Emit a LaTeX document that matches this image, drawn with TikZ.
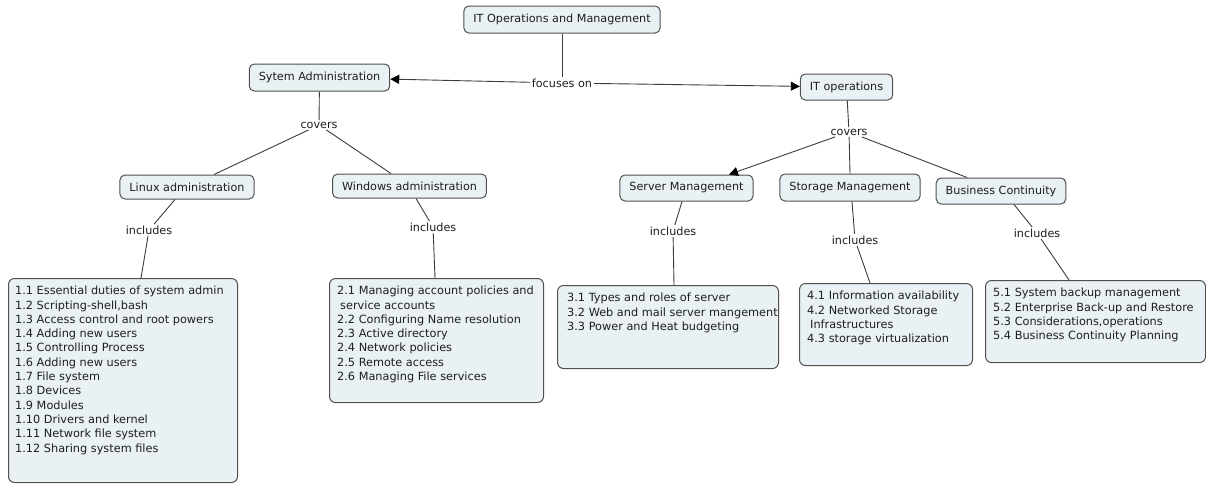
\documentclass[tikz,border=0pt]{standalone}
\usepackage{fontspec}
\usepackage{tikz}
\usetikzlibrary{arrows.meta}
\newfontfamily\mapfont{DejaVu Sans}
\definecolor{boxfill}{RGB}{233,241,244}
\definecolor{boxline}{RGB}{80,80,80}
\definecolor{inkgray}{RGB}{30,30,30}
\definecolor{linkgray}{RGB}{60,60,60}
\begin{document}
\begin{tikzpicture}[x=1pt,y=-1pt]
\tikzstyle{concept}=[draw=boxline,fill=boxfill,rounded corners=5pt,line width=1pt,minimum height=26pt,inner xsep=9.5pt,text=inkgray,font=\mapfont\fontsize{11.2}{13}\selectfont];
\tikzstyle{listbox}=[draw=boxline,fill=boxfill,rounded corners=6pt,line width=1pt,anchor=north west,inner sep=0pt];
\tikzstyle{listtext}=[anchor=north west,inner sep=0pt,align=left,text=inkgray,font=\mapfont\fontsize{11.3}{14.3}\selectfont];
\tikzstyle{linkword}=[inner sep=1.5pt,text=inkgray,font=\mapfont\fontsize{11.2}{13}\selectfont];
\tikzstyle{link}=[draw=linkgray,line width=0.9pt];
\tikzstyle{linkarrow}=[link,-{Triangle[length=9pt,width=9pt,fill=black,color=black]}];
\path[use as bounding box,fill=white] (0,0) rectangle (1206,483);

\node[concept,minimum height=27pt] (itom) at (562,19.5) {IT Operations and Management};
\node[concept,minimum height=27pt] (sysadm) at (319.5,77.5) {Sytem Administration};
\node[concept] (itops) at (846.5,87) {IT operations};
\node[concept,minimum height=24pt] (linux) at (187,187) {Linux administration};
\node[concept,minimum height=24pt] (windows) at (409.5,186) {Windows administration};
\node[concept] (server) at (686.5,188) {Server Management};
\node[concept,minimum height=27pt] (storage) at (850,187.5) {Storage Management};
\node[concept] (business) at (1001,191) {Business Continuity};

\node[linkword] (focus) at (562,83) {focuses on};
\node[linkword] (cover1) at (319,125) {covers};
\node[linkword] (cover2) at (849,132) {covers};
\node[linkword] (incl1) at (149,230) {includes};
\node[linkword] (incl2) at (433,227) {includes};
\node[linkword] (incl3) at (673,231) {includes};
\node[linkword] (incl4) at (855,240) {includes};
\node[linkword] (incl5) at (1037,233) {includes};

\node[listbox,minimum width=229pt,minimum height=204pt] (linuxlist) at (8,278) {};
\node[listtext] (linuxtxt) at ([xshift=7pt,yshift=-8pt]linuxlist.north west) {1.1 Essential duties of system admin\\1.2 Scripting-shell,bash\\1.3 Access control and root powers\\1.4 Adding new users\\1.5 Controlling Process\\1.6 Adding new users\\1.7 File system\\1.8 Devices\\1.9 Modules\\1.10 Drivers and kernel\\1.11 Network file system\\1.12 Sharing system files};
\node[listbox,minimum width=214pt,minimum height=124pt] (winlist) at (329,278) {};
\node[listtext] (wintxt) at ([xshift=8pt,yshift=-8pt]winlist.north west) {2.1 Managing account policies and\\\hspace{3pt}service accounts\\2.2 Configuring Name resolution\\2.3 Active directory\\2.4 Network policies\\2.5 Remote access\\2.6 Managing File services};
\node[listbox,minimum width=221pt,minimum height=83pt] (serverlist) at (557,285) {};
\node[listtext] (servertxt) at ([xshift=10pt,yshift=-8pt]serverlist.north west) {3.1 Types and roles of server\\3.2 Web and mail server mangement\\3.3 Power and Heat budgeting};
\node[listbox,minimum width=173pt,minimum height=82pt] (storagelist) at (799,283) {};
\node[listtext] (storagetxt) at ([xshift=8pt,yshift=-8pt]storagelist.north west) {4.1 Information availability\\4.2 Networked Storage\\\hspace{3pt}Infrastructures\\4.3 storage virtualization};
\node[listbox,minimum width=220pt,minimum height=82pt] (buslist) at (985,280) {};
\node[listtext] (bustxt) at ([xshift=8pt,yshift=-8pt]buslist.north west) {5.1 System backup management\\5.2 Enterprise Back-up and Restore\\5.3 Considerations,operations\\5.4 Business Continuity Planning};

\draw[link] (itom) -- (focus);
\draw[linkarrow] (focus) -- (sysadm);
\draw[linkarrow] (focus) -- (itops);
\draw[link] (sysadm) -- (cover1);
\draw[link] (cover1) -- ([xshift=27pt]linux.north);
\draw[link] (cover1) -- ([xshift=-18.5pt]windows.north);
\draw[link] (itops) -- (cover2);
\draw[linkarrow] (cover2) -- ([xshift=42.5pt]server.north);
\draw[link] (cover2) -- (storage.north);
\draw[link] (cover2) -- ([xshift=-34pt]business.north);
\draw[link] ([xshift=-12pt]linux.south) -- (incl1);
\draw[link] (incl1) -- ([xshift=133pt]linuxlist.north west);
\draw[link] ([xshift=6.5pt]windows.south) -- (incl2);
\draw[link] (incl2) -- ([xshift=106pt]winlist.north west);
\draw[link] ([xshift=-4.5pt]server.south) -- (incl3);
\draw[link] (incl3) -- ([xshift=117pt]serverlist.north west);
\draw[link] ([xshift=2pt]storage.south) -- (incl4);
\draw[link] (incl4) -- ([xshift=71pt]storagelist.north west);
\draw[link] ([xshift=13pt]business.south) -- (incl5);
\draw[link] (incl5) -- ([xshift=84pt]buslist.north west);
\end{tikzpicture}
\end{document}
